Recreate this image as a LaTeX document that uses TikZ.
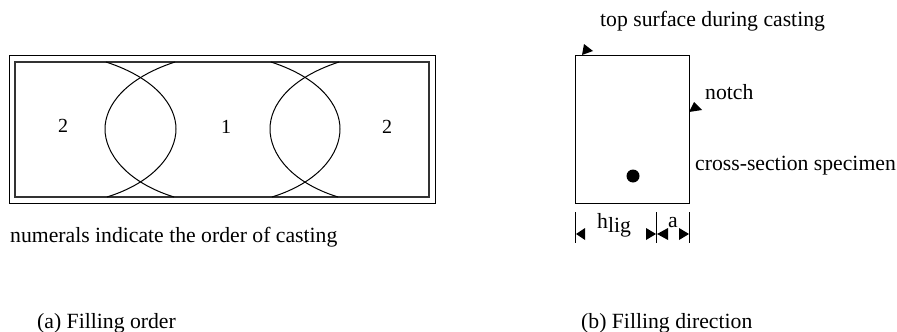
\documentclass[tikz,border=0pt]{standalone}
\usepackage{fontspec}
\setmainfont{Liberation Serif}
\tikzset{
  lbl/.style={inner sep=0pt,anchor=base west,font=\fontsize{21.7pt}{24pt}\selectfont,text=black},
  num/.style={inner sep=0pt,font=\fontsize{20pt}{24pt}\selectfont,text=black},
  curve/.style={draw=black,line width=1pt},
  frame/.style={draw=black,line width=1pt},
  innerframe/.style={draw=black!80,line width=1.2pt},
  tick/.style={draw=black,line width=0.6pt},
  tip/.style={fill=black,draw=none}
}
\begin{document}
\begin{tikzpicture}[x=1pt,y=-1pt]
\useasboundingbox (0,0) rectangle (897,332);
% slab
\draw[frame] (9,55) rectangle (435,203);
\draw[innerframe] (15,62) rectangle (429,197);
% lens curves
\draw[curve] (106,62) .. controls (155,78) and (176,105) .. (176,129) .. controls (176,153) and (155,182) .. (107,197);
\draw[curve] (175,62) .. controls (126,78) and (105,105) .. (105,129) .. controls (105,153) and (126,182) .. (174,197);
\draw[curve] (271,62) .. controls (320,78) and (340,105) .. (340,129) .. controls (340,153) and (320,182) .. (272,197);
\draw[curve] (339,62) .. controls (290,78) and (270,105) .. (270,129) .. controls (270,153) and (290,182) .. (338,197);
\node[num] (n2a) at (63,126) {2};
\node[num] (n1) at (226,127) {1};
\node[num] (n2b) at (387,127) {2};
\node[lbl] (note) at (10,242) {numerals indicate the order of casting};
\node[lbl] (capa) at (37,328) {(a) Filling order};
% specimen
\draw[frame] (575,55) rectangle (689,203);
\fill[black] (633,176) circle (6.5);
\fill[tip] (582,55) -- (584,44) -- (593,51) -- cycle;
\fill[tip] (689,112) -- (702,110) -- (694,102) -- cycle;
\node[lbl] (top) at (600,27) {top surface during casting};
\node[lbl] (notch) at (705,99) {notch};
\node[lbl] (cross) at (695,170) {cross-section specimen};
% dimensions
\draw[tick] (575,212) -- (575,243);
\draw[tick] (656,212) -- (656,243);
\draw[tick] (689,212) -- (689,243);
\fill[tip] (576,234) -- (585,228) -- (585,240) -- cycle;
\fill[tip] (656,234) -- (646,228) -- (646,240) -- cycle;
\fill[tip] (657,234) -- (668,228) -- (668,240) -- cycle;
\fill[tip] (689,234) -- (679,228) -- (679,240) -- cycle;
\node[lbl] (hlig) at (597,228) {h\raisebox{-4pt}{lig}};
\node[lbl] (adim) at (668,227) {a};
\node[lbl] (capb) at (581,328) {(b) Filling direction};
\end{tikzpicture}
\end{document}
